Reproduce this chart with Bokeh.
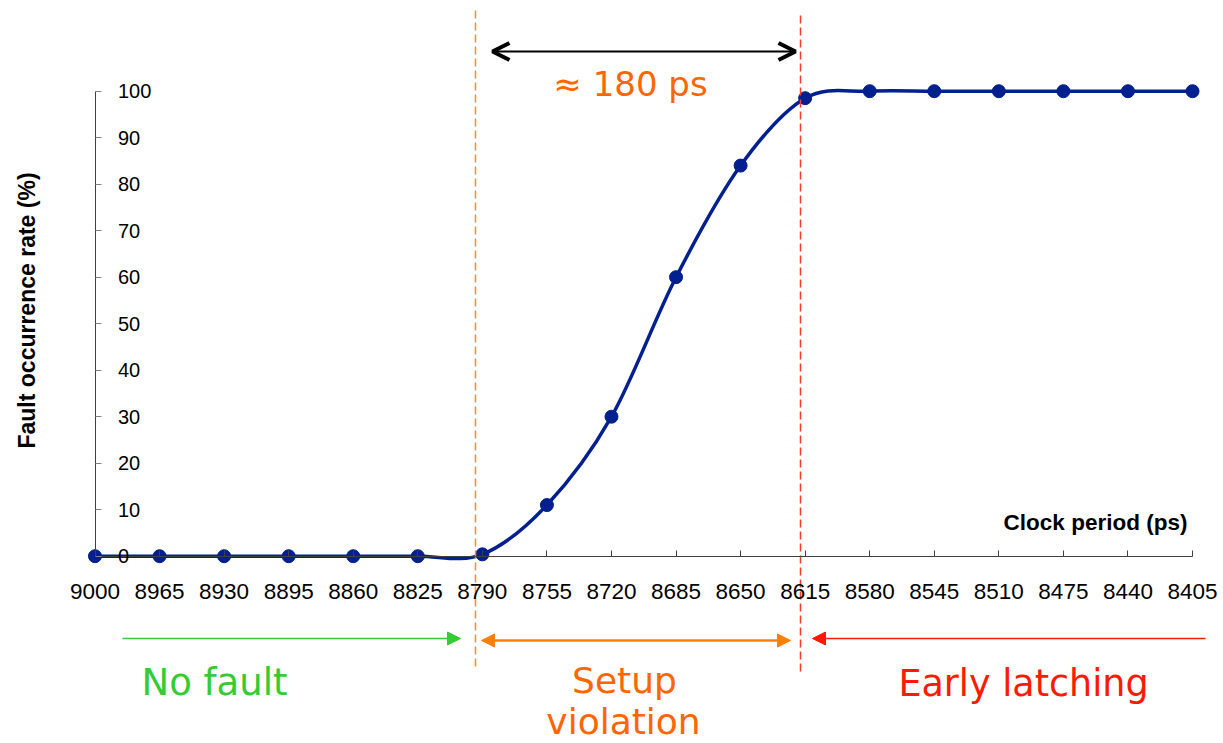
import numpy as np
from bokeh.plotting import figure
from bokeh.models import (LinearAxis, FixedTicker, Range1d, Arrow, OpenHead,
                          NormalHead, Label, ColumnDataSource)
from bokeh.embed import file_html
from bokeh.resources import INLINE

# ---------------- data ----------------
periods = ["9000", "8965", "8930", "8895", "8860", "8825", "8790", "8755", "8720",
           "8685", "8650", "8615", "8580", "8545", "8510", "8475", "8440", "8405"]
rates = [0, 0, 0, 0, 0, 0, 0.4, 11, 30, 60, 84, 98.5, 100, 100, 100, 100, 100, 100]
y_ticks = [0, 10, 20, 30, 40, 50, 60, 70, 80, 90, 100]

# ---------------- geometry (pixel calibration of the reference) ----------------
W, H = 1223, 743
X0_PX, DX_PX = 94.5, 64.56   # pixel of first category, pixels per category
Y0_PX, DY_PX = 555.7, 4.65   # pixel of 0 %, pixels per %


def dx(px):
    return (px - X0_PX) / DX_PX


def dy(py):
    return (Y0_PX - py) / DY_PX


NAVY = "#00208F"
ORANGE = "#FF6600"
GREEN = "#33CC33"
RED = "#FF1A00"
FONT = "Liberation Sans"
HAND = "DejaVu Sans"

p = figure(width=W, height=H, output_backend="svg", toolbar_location=None,
           x_range=Range1d(dx(0), dx(W)), y_range=Range1d(dy(H), dy(0)),
           x_axis_type=None, y_axis_type=None, min_border=0,
           outline_line_color=None,
           background_fill_color="white", border_fill_color="white")

# ---------------- axes ----------------
yaxis = LinearAxis(fixed_location=0, ticker=FixedTicker(ticks=y_ticks), bounds=(0, 100),
                   major_tick_in=0, major_tick_out=6, minor_tick_line_color=None,
                   axis_line_color="#404040", major_tick_line_color="#808080",
                   major_label_standoff=17, major_label_text_font=FONT,
                   major_label_text_font_size="20px", major_label_text_color="black")
p.add_layout(yaxis, "right")

cat_idx = list(range(len(periods)))
xaxis = LinearAxis(fixed_location=0, ticker=FixedTicker(ticks=cat_idx),
                   major_label_overrides={i: s for i, s in enumerate(periods)},
                   bounds=(0, len(periods) - 1),
                   major_tick_in=6, major_tick_out=0, minor_tick_line_color=None,
                   axis_line_color="#404040", major_tick_line_color="#404040",
                   major_label_standoff=28, major_label_text_font=FONT,
                   major_label_text_font_size="22.5px", major_label_text_color="black")
p.add_layout(xaxis, "below")

# axis titles
p.add_layout(Label(x=dx(26), y=dy(310), text="Fault occurrence rate (%)", angle=np.pi / 2,
                   text_align="center", text_baseline="middle", text_font=FONT,
                   text_font_style="bold", text_font_size="23px", text_color="black"))
p.add_layout(Label(x=dx(1095), y=dy(522), text="Clock period (ps)", text_align="center",
                   text_baseline="middle", text_font=FONT, text_font_style="bold",
                   text_font_size="22.5px", text_color="black"))

# ---------------- smoothed curve (Catmull-Rom -> cubic Bezier) ----------------
x = np.array(cat_idx, dtype=float)
y = np.array(rates, dtype=float)
n = len(x)
qx = np.concatenate([[x[0]], x, [x[-1]]])
qy = np.concatenate([[y[0]], y, [y[-1]]])
seg = ColumnDataSource(dict(
    x0=x[:-1], y0=y[:-1], x1=x[1:], y1=y[1:],
    cx0=qx[1:n] + (qx[2:n + 1] - qx[0:n - 1]) / 6.0,
    cy0=qy[1:n] + (qy[2:n + 1] - qy[0:n - 1]) / 6.0,
    cx1=qx[2:n + 1] - (qx[3:n + 2] - qx[1:n]) / 6.0,
    cy1=qy[2:n + 1] - (qy[3:n + 2] - qy[1:n]) / 6.0,
))
p.bezier(x0="x0", y0="y0", x1="x1", y1="y1", cx0="cx0", cy0="cy0",
         cx1="cx1", cy1="cy1", source=seg, line_color=NAVY, line_width=3.5)
p.scatter(x, y, size=13, fill_color=NAVY, line_color=NAVY)

# ---------------- annotations ----------------
# dashed region borders
p.segment(x0=[dx(475)], y0=[dy(10)], x1=[dx(475)], y1=[dy(668)],
          line_color="#FF8C26", line_width=1.5, line_dash="8 4")
p.segment(x0=[dx(800)], y0=[dy(15)], x1=[dx(800)], y1=[dy(675)],
          line_color="#FF3B26", line_width=1.5, line_dash="8 4")

# 180 ps double arrow
p.add_layout(Arrow(x_start=dx(492), y_start=dy(51), x_end=dx(795), y_end=dy(51),
                   line_color="black", line_width=2,
                   start=OpenHead(size=17, line_width=4, line_color="black"),
                   end=OpenHead(size=17, line_width=4, line_color="black")))
p.add_layout(Label(x=dx(630), y=dy(83), text="\u2248 180 ps", text_align="center",
                   text_baseline="middle", text_font=HAND, text_font_size="34px",
                   text_color=ORANGE))

# region arrows
p.add_layout(Arrow(x_start=dx(122), y_start=dy(638), x_end=dx(460), y_end=dy(638),
                   line_color=GREEN, line_width=1.5, start=None,
                   end=NormalHead(size=13, fill_color=GREEN, line_color=GREEN)))
p.add_layout(Arrow(x_start=dx(481), y_start=dy(640), x_end=dx(790), y_end=dy(640),
                   line_color="#FF8000", line_width=2.5,
                   start=NormalHead(size=13, fill_color="#FF8000", line_color="#FF8000"),
                   end=NormalHead(size=13, fill_color="#FF8000", line_color="#FF8000")))
p.add_layout(Arrow(x_start=dx(1205), y_start=dy(638), x_end=dx(812), y_end=dy(638),
                   line_color=RED, line_width=1.5, start=None,
                   end=NormalHead(size=13, fill_color=RED, line_color=RED)))

# region labels
p.add_layout(Label(x=dx(214), y=dy(682), text="No fault", text_align="center",
                   text_baseline="middle", text_font=HAND, text_font_size="37px",
                   text_color=GREEN))
p.add_layout(Label(x=dx(624), y=dy(700), text="Setup", text_align="center",
                   text_baseline="bottom", text_font=HAND, text_font_size="36px",
                   text_color=ORANGE))
p.add_layout(Label(x=dx(623), y=dy(741), text="violation", text_align="center",
                   text_baseline="bottom", text_font=HAND, text_font_size="36px",
                   text_color=ORANGE))
p.add_layout(Label(x=dx(1023), y=dy(683), text="Early latching", text_align="center",
                   text_baseline="middle", text_font=HAND, text_font_size="36.5px",
                   text_color=RED))

open("out.html", "w").write(file_html(p, INLINE))
